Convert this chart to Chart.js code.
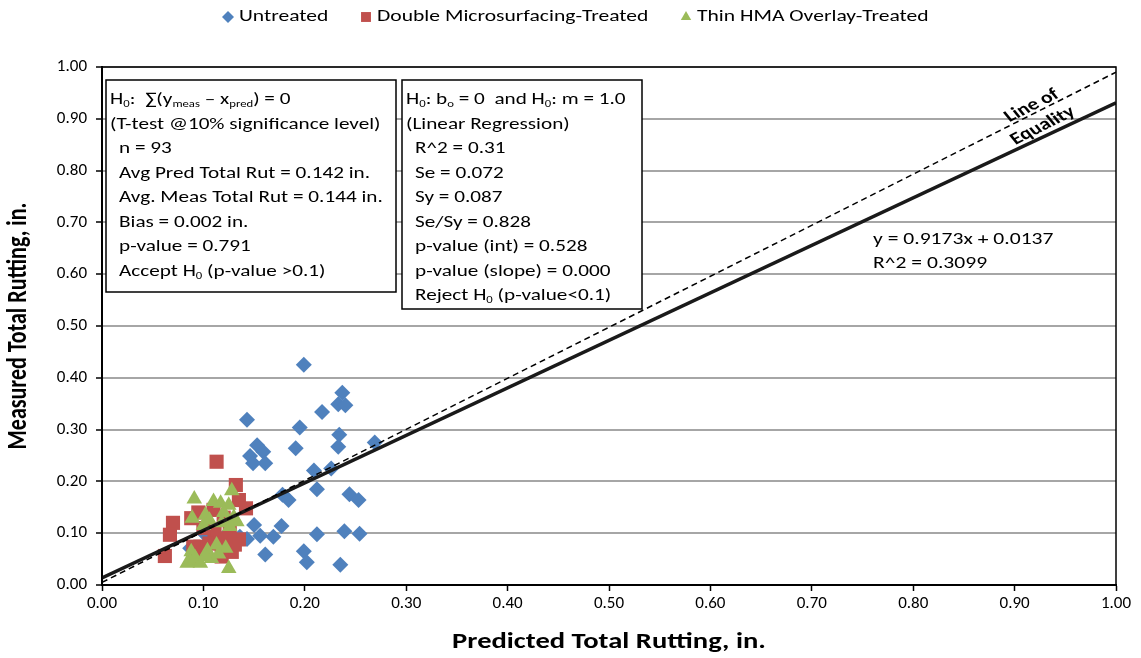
<!DOCTYPE html>
<html>
<head>
<meta charset="utf-8">
<title>Measured vs Predicted Total Rutting</title>
<script src="https://cdn.jsdelivr.net/npm/chart.js@4.4.0/dist/chart.umd.min.js"></script>
<style>
    html, body { margin: 0; padding: 0; background: #fff; }
    #wrap { width: 1141px; height: 658px; }
</style>
</head>
<body>
<div id="wrap"><canvas id="myChart" width="1141" height="658"></canvas></div>
<script>
"use strict"

const FONT = "Carlito, Lato, 'Liberation Sans', sans-serif";
const SX = 1.27;   // horizontal stretch used for the annotation text

// predicted / measured total rutting, in.
let untreated = [
    [0.199, 0.425], [0.237, 0.371], [0.233, 0.349], [0.240, 0.347], [0.217, 0.334],
    [0.143, 0.319], [0.195, 0.304], [0.234, 0.290], [0.233, 0.267], [0.269, 0.275],
    [0.191, 0.264], [0.153, 0.270], [0.159, 0.257], [0.146, 0.249], [0.161, 0.235],
    [0.149, 0.235], [0.209, 0.221], [0.226, 0.225], [0.212, 0.185], [0.178, 0.174],
    [0.184, 0.164], [0.244, 0.175], [0.253, 0.164], [0.150, 0.116], [0.156, 0.095],
    [0.169, 0.093], [0.177, 0.114], [0.212, 0.098], [0.239, 0.104], [0.254, 0.099],
    [0.161, 0.059], [0.199, 0.065], [0.202, 0.044], [0.235, 0.039], [0.143, 0.089],
    [0.136, 0.093], [0.102, 0.097], [0.087, 0.071], [0.113, 0.090], [0.124, 0.100]
];
let microsurfacing = [
    [0.113, 0.238], [0.132, 0.193], [0.135, 0.164], [0.142, 0.148], [0.070, 0.120],
    [0.067, 0.097], [0.062, 0.056], [0.088, 0.129], [0.097, 0.074], [0.111, 0.103],
    [0.135, 0.088], [0.128, 0.064], [0.126, 0.103], [0.106, 0.080], [0.090, 0.074],
    [0.117, 0.083], [0.131, 0.078], [0.100, 0.110], [0.122, 0.090], [0.094, 0.062],
    [0.095, 0.140], [0.110, 0.145], [0.120, 0.130], [0.100, 0.060], [0.090, 0.050],
    [0.118, 0.055]
];
let hmaOverlay = [
    [0.091, 0.166], [0.110, 0.161], [0.117, 0.158], [0.125, 0.154], [0.128, 0.182],
    [0.102, 0.135], [0.089, 0.129], [0.126, 0.113], [0.133, 0.122], [0.113, 0.077],
    [0.122, 0.071], [0.088, 0.064], [0.087, 0.045], [0.097, 0.042], [0.108, 0.051],
    [0.125, 0.032], [0.084, 0.042], [0.120, 0.140], [0.130, 0.131], [0.104, 0.066],
    [0.092, 0.052], [0.118, 0.120], [0.124, 0.121], [0.100, 0.115], [0.115, 0.060],
    [0.106, 0.125], [0.102, 0.055]
];

// regression y = m x + b, and the equality line as drawn
let trendSlope = 0.9173;
let trendIntercept = 0.0137;
let trendR2 = 0.3099;
let equalityX = [0, 1];
let equalityY = [0.005, 0.99];

let seriesNames = ["Untreated", "Double Microsurfacing-Treated", "Thin HMA Overlay-Treated"];
let seriesColors = ["#4F81BD", "#C0504D", "#9BBB59"];
let seriesStyles = ["rectRot", "rect", "triangle"];
let seriesRadius = [8, 10, 9];

let axisTicks = [0, 0.1, 0.2, 0.3, 0.4, 0.5, 0.6, 0.7, 0.8, 0.9, 1.0];

// text of the two statistics boxes; [text, isSubscript]
let tTestLines = [
    [["H"], ["0", 1], [":  \u2211(y"], ["meas", 1], [" \u2013 x"], ["pred", 1], [") = 0"]],
    [["(T-test @10% significance level)"]],
    [["n = 93"]],
    [["Avg Pred Total Rut = 0.142 in."]],
    [["Avg. Meas Total Rut = 0.144 in."]],
    [["Bias = 0.002 in."]],
    [["p-value = 0.791"]],
    [["Accept H"], ["0", 1], [" (p-value >0.1)"]]
];
let regressionLines = [
    [["H"], ["0", 1], [": b"], ["o", 1], [" = 0  and H"], ["0", 1], [": m = 1.0"]],
    [["(Linear Regression)"]],
    [["R^2 = 0.31"]],
    [["Se = 0.072"]],
    [["Sy = 0.087"]],
    [["Se/Sy = 0.828"]],
    [["p-value (int) = 0.528"]],
    [["p-value (slope) = 0.000"]],
    [["Reject H"], ["0", 1], [" (p-value<0.1)"]]
];

function toPoints(arr) {
    return arr.map(function (p) { return { x: p[0], y: p[1] }; });
}

// text widened horizontally by SX
function wideText(ctx, text, x, y, font, align) {
    ctx.save();
    ctx.translate(x, y);
    ctx.scale(SX, 1);
    ctx.font = font;
    ctx.textAlign = align || "left";
    ctx.fillText(text, 0, 0);
    ctx.restore();
}

function drawRuns(ctx, x, y, runs, size) {
    ctx.save();
    ctx.translate(x, y);
    ctx.scale(SX, 1);
    let pos = 0;
    for (let r of runs) {
        let sub = r[1] == 1;
        ctx.font = (sub ? Math.round(size * 0.62) : size) + "px " + FONT;
        ctx.fillText(r[0], pos, sub ? size * 0.28 : 0);
        pos += ctx.measureText(r[0]).width;
    }
    ctx.restore();
}

function drawBox(ctx, left, top, right, bottom, lines, indentFrom) {
    ctx.save();
    ctx.fillStyle = "#fff";
    ctx.fillRect(left, top, right - left, bottom - top);
    ctx.strokeStyle = "#000";
    ctx.lineWidth = 1.5;
    ctx.strokeRect(left, top, right - left, bottom - top);
    ctx.fillStyle = "#000";
    ctx.textBaseline = "middle";
    ctx.textAlign = "left";
    for (let i = 0; i < lines.length; i++) {
        let x = left + 4 + (i >= indentFrom ? 9 : 0);
        drawRuns(ctx, x, top + 20 + i * 24.5, lines[i], 16.7);
    }
    ctx.restore();
}

const extras = {
    id: "extras",
    afterDraw(chart) {
        let ctx = chart.ctx;
        let area = chart.chartArea;

        // plot area frame
        ctx.save();
        ctx.strokeStyle = "#000";
        ctx.lineWidth = 1.5;
        ctx.strokeRect(area.left, area.top, area.right - area.left, area.bottom - area.top);
        ctx.restore();

        // legend
        let legendX = [228, 366, 686];
        ctx.save();
        ctx.textBaseline = "middle";
        for (let i = 0; i < seriesNames.length; i++) {
            ctx.fillStyle = seriesColors[i];
            Chart.helpers.drawPoint(ctx, {
                pointStyle: seriesStyles[i], radius: [6, 7, 6][i], rotation: 0, borderWidth: 0
            }, legendX[i], 17);
            ctx.fillStyle = "#000";
            wideText(ctx, seriesNames[i], legendX[i] + 11, 17, "17px " + FONT);
        }
        ctx.restore();

        drawBox(ctx, 106, 80, 396, 292, tTestLines, 2);
        drawBox(ctx, 402, 80, 642, 309, regressionLines, 2);

        // regression equation
        ctx.save();
        ctx.fillStyle = "#000";
        ctx.textBaseline = "middle";
        wideText(ctx, "y = " + trendSlope.toFixed(4) + "x + " + trendIntercept.toFixed(4), 873, 240, "17px " + FONT);
        wideText(ctx, "R^2 = " + trendR2.toFixed(4), 873, 264, "17px " + FONT);
        ctx.restore();

        // label along the equality line, written in the unstretched frame
        let xs = chart.scales.x, ys = chart.scales.y;
        let dx = xs.getPixelForValue(equalityX[1]) - xs.getPixelForValue(equalityX[0]);
        let dy = ys.getPixelForValue(equalityY[1]) - ys.getPixelForValue(equalityY[0]);
        let ang = Math.atan2(dy * SX, dx);
        let labels = [["Line of", 1032, 106], ["Equality", 1043, 126]];
        for (let lab of labels) {
            ctx.save();
            ctx.fillStyle = "#000";
            ctx.font = "bold 17px " + FONT;
            ctx.textAlign = "center";
            ctx.textBaseline = "middle";
            ctx.translate(lab[1], lab[2]);
            ctx.scale(SX, 1);
            ctx.rotate(ang);
            ctx.fillText(lab[0], 0, 0);
            ctx.restore();
        }

        // axis titles
        ctx.save();
        ctx.fillStyle = "#000";
        ctx.textBaseline = "middle";
        wideText(ctx, "Predicted Total Rutting, in.", (area.left + area.right) / 2, 642, "bold 22.5px " + FONT, "center");
        ctx.translate(19, (area.top + area.bottom) / 2);
        ctx.rotate(-Math.PI / 2);
        ctx.scale(1, SX);
        ctx.font = "bold 22px " + FONT;
        ctx.textAlign = "center";
        ctx.fillText("Measured Total Rutting, in.", 0, 0);
        ctx.restore();
    }
};

function buildChart() {
    let ctx = document.getElementById("myChart").getContext("2d");
    let scatterSets = [hmaOverlay, microsurfacing, untreated];
    let idx = [2, 1, 0];
    let datasets = [
        {
            label: "Line of Equality",
            data: [{ x: equalityX[0], y: equalityY[0] }, { x: equalityX[1], y: equalityY[1] }],
            showLine: true, borderColor: "#000", borderWidth: 1.5, borderDash: [6, 4],
            pointRadius: 0
        },
        {
            label: "Linear (All)",
            data: equalityX.map(function (x) { return { x: x, y: trendSlope * x + trendIntercept }; }),
            showLine: true, borderColor: "#1a1a1a", borderWidth: 3.5, pointRadius: 0
        }
    ];
    for (let k = 0; k < scatterSets.length; k++) {
        let i = idx[k];
        datasets.push({
            label: seriesNames[i],
            data: toPoints(scatterSets[k]),
            backgroundColor: seriesColors[i],
            borderWidth: 0,
            pointStyle: seriesStyles[i],
            pointRadius: seriesRadius[i],
            pointHoverRadius: seriesRadius[i]
        });
    }

    let tickFont = { family: FONT, size: 17 };
    return new Chart(ctx, {
        type: "scatter",
        data: { datasets: datasets },
        options: {
            responsive: false,
            animation: false,
            events: [],
            layout: { padding: { top: 67, right: 25, left: 0, bottom: 0 } },
            plugins: { legend: { display: false }, tooltip: { enabled: false } },
            scales: {
                x: {
                    type: "linear", min: 0, max: 1,
                    afterBuildTicks(s) { s.ticks = axisTicks.map(function (v) { return { value: v }; }); },
                    ticks: { color: "#000", font: tickFont, padding: 3, maxRotation: 0,
                        callback: function (v) { return Number(v).toFixed(2); } },
                    grid: { drawOnChartArea: false, tickLength: 6, tickColor: "#000", tickWidth: 1.5 },
                    border: { color: "#000", width: 2 },
                    afterFit(s) { s.height = 73; }
                },
                y: {
                    type: "linear", min: 0, max: 1,
                    afterBuildTicks(s) { s.ticks = axisTicks.map(function (v) { return { value: v }; }); },
                    ticks: { color: "#000", font: tickFont, padding: 9,
                        callback: function (v) { return Number(v).toFixed(2); } },
                    grid: { color: "#a6a6a6", lineWidth: 2, tickLength: 6, tickColor: "#000", tickWidth: 1.5 },
                    border: { color: "#000", width: 2 },
                    afterFit(s) { s.width = 102; }
                }
            }
        },
        plugins: [extras]
    });
}

buildChart();
</script>
</body>
</html>
